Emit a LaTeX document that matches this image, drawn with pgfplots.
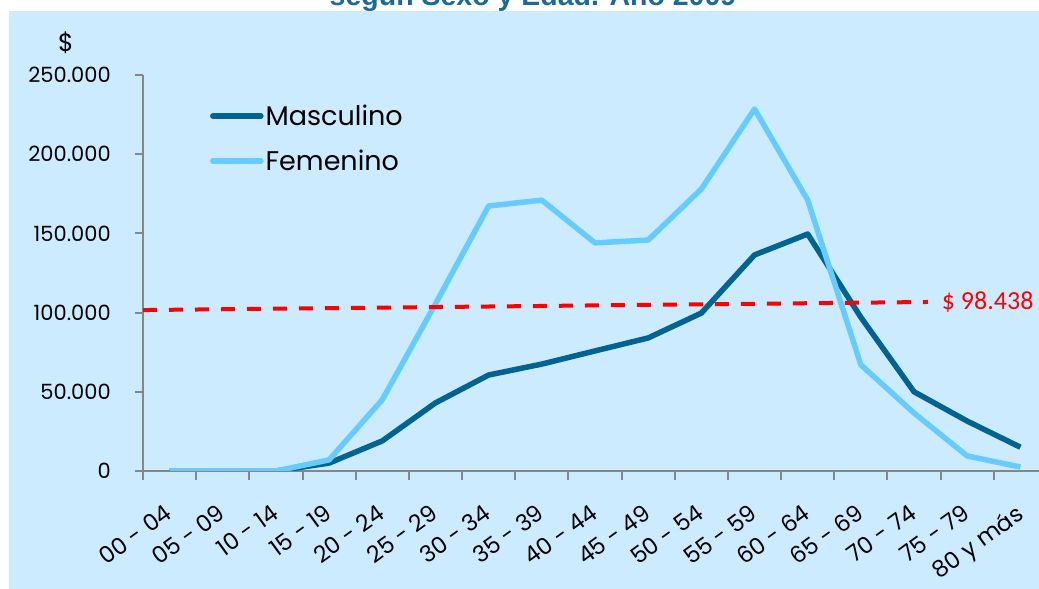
\documentclass[border=0pt]{standalone}
\usepackage{pgfplots}
\pgfplotsset{compat=1.18}
\usepackage{fontspec}
\setmainfont{Poppins}
\newfontfamily\calibri{Carlito}
\newfontfamily\arialb{Liberation Sans}
\definecolor{bgblue}{RGB}{204,235,255}
\definecolor{masc}{RGB}{0,99,145}
\definecolor{fem}{RGB}{102,204,255}
\definecolor{titleblue}{RGB}{27,106,154}
\definecolor{axgray}{RGB}{134,134,134}

\begin{document}
\begin{tikzpicture}[x=1pt,y=1pt]
\useasboundingbox (0,0) rectangle (1039,589);
\clip (0,0) rectangle (1039,589);
\fill[bgblue] (9,0) rectangle (1045,578);
% title, cut off at the top in the original
\node[anchor=base, font=\arialb\bfseries\fontsize{28.5}{32}\selectfont, text=titleblue, inner sep=0pt]
  at (533,583) {según Sexo y Edad. Año 2009};
\node[font=\fontsize{25}{28}\selectfont] at (66,546) {\$};
\begin{axis}[
  at={(143pt,118pt)}, anchor=south west,
  scale only axis, width=904pt, height=396pt,
  xmin=-0.5, xmax=16.5, ymin=0, ymax=250000,
  axis lines=left,
  axis line style={-, axgray, line width=2pt},
  every tick/.style={axgray, line width=2pt},
  tick align=outside,
  major tick length=8pt, minor tick length=9pt,
  xtick={0,...,16},
  minor xtick={-0.5,0.5,...,16.5},
  major x tick style={draw=none},
  xticklabels={00 - 04,05 - 09,10 - 14,15 - 19,20 - 24,25 - 29,30 - 34,35 - 39,40 - 44,45 - 49,50 - 54,55 - 59,60 - 64,65 - 69,70 - 74,75 - 79,80 y más},
  xticklabel style={font=\fontsize{23}{26}\selectfont, rotate=36, anchor=north east, inner sep=0pt,
    xshift=-19pt, yshift=-15.9pt},
  ytick={0,50000,100000,150000,200000,250000},
  yticklabels={0,50.000,100.000,150.000,200.000,250.000},
  scaled y ticks=false,
  yticklabel style={font=\fontsize{21}{24}\selectfont, anchor=east, inner sep=0pt, xshift=-24pt},
  legend style={draw=none, fill=none, at={(rel axis cs:0.074,0.93)}, anchor=north west,
    font=\fontsize{27}{30}\selectfont, row sep=19pt, inner sep=0pt},
  legend cell align=left,
  legend image code/.code={\draw[#1, line cap=round] (0pt,0pt) -- (48pt,0pt);},
  every axis plot/.append style={line join=round},
]
\addplot[masc, line width=5.5pt] coordinates {
  (0,0)(1,0)(2,0)(3,5000)(4,19000)(5,43000)(6,60600)(7,67500)(8,75800)
  (9,84000)(10,99700)(11,136400)(12,149600)(13,97000)(14,50000)(15,31500)(16,15000)
};
\addplot[fem, line width=5.5pt] coordinates {
  (0,0)(1,0)(2,0)(3,7000)(4,45000)(5,105500)(6,167300)(7,171000)(8,144000)
  (9,145800)(10,178000)(11,228500)(12,171000)(13,67000)(14,36600)(15,9500)(16,2500)
};
\legend{Masculino, Femenino}
\addplot[red, line width=4pt, dash pattern=on 14pt off 12pt, forget plot]
  coordinates {(-0.5,101600) (14.26,106700)};
\node[anchor=west, text=red, inner sep=0pt, font=\calibri\fontsize{26}{30}\selectfont]
  at (axis cs:14.52,106900) {\$ 98.438};
\end{axis}
\end{tikzpicture}
\end{document}
